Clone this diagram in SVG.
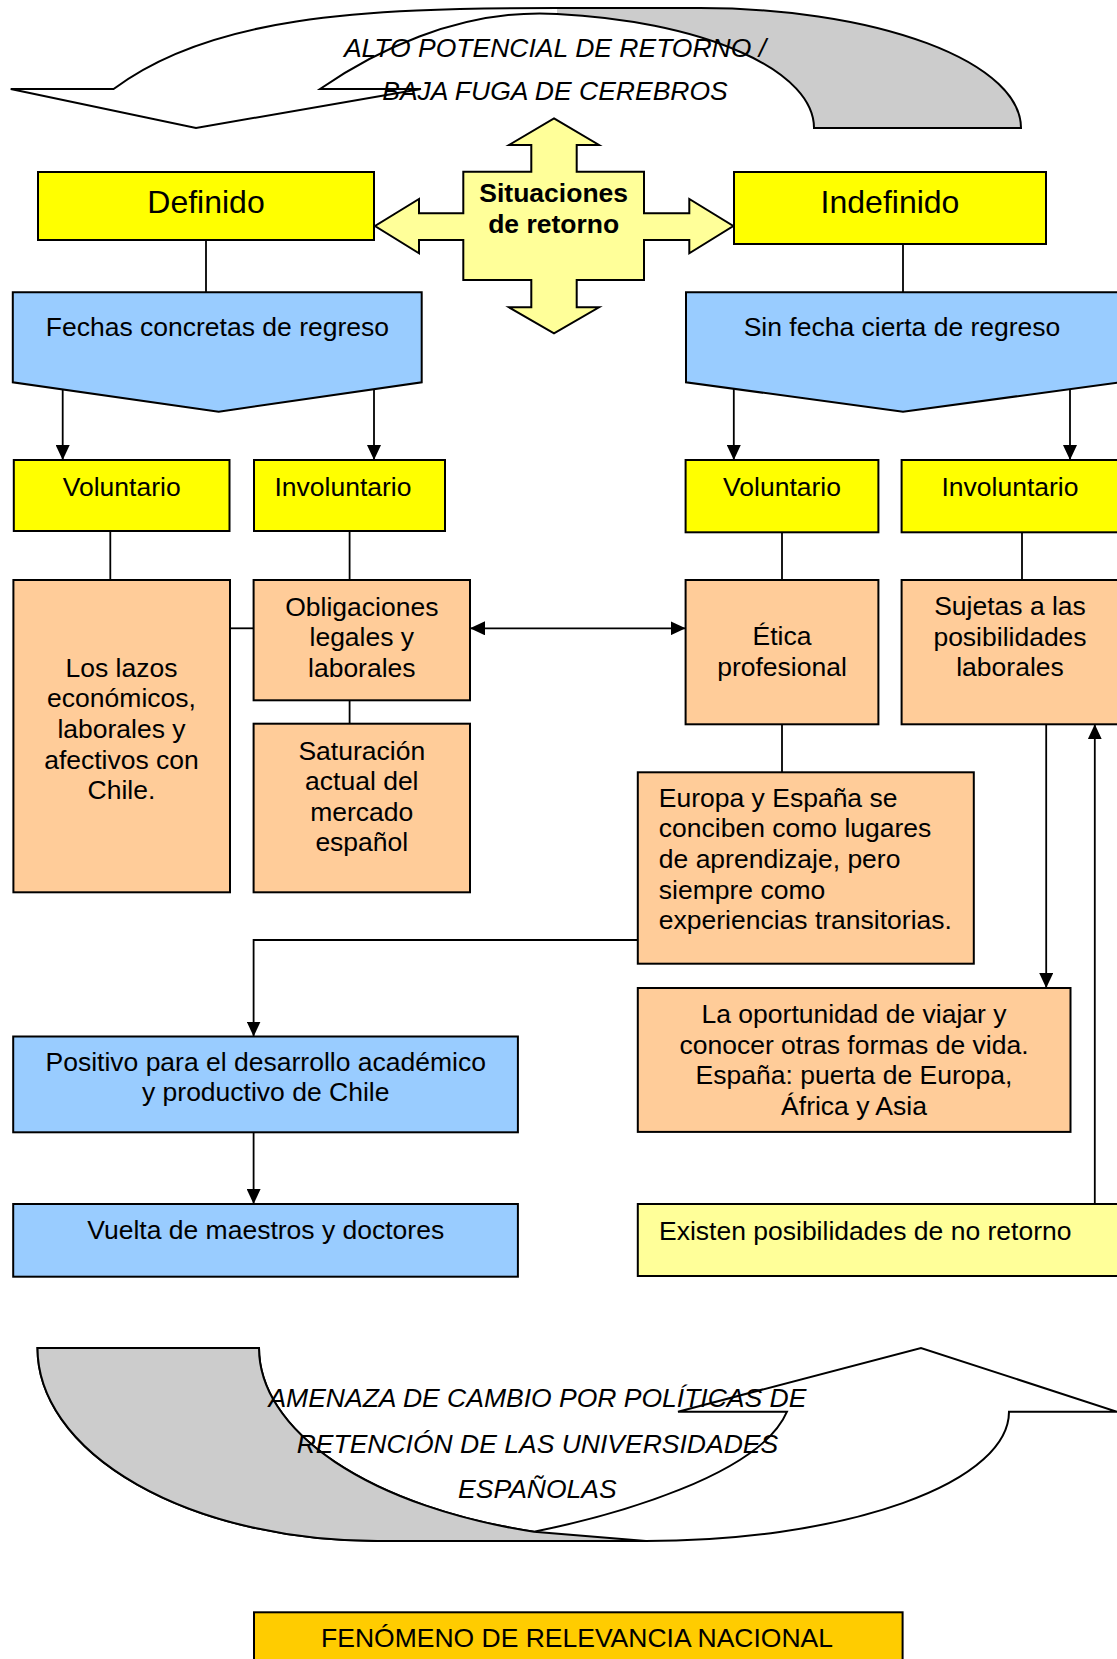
<svg xmlns="http://www.w3.org/2000/svg" width="1117" height="1659" viewBox="0 0 1117 1659">
<style>
text{font-family:"Liberation Sans",Arial,sans-serif;font-size:26.5px;fill:#000}
.c{text-anchor:middle}
.it{font-style:italic}
.b{font-weight:bold}
.big{font-size:32px}
.box{stroke:#000;stroke-width:2}
.yel{fill:#FFFF00}
.pyel{fill:#FFFF99}
.org{fill:#FFCC99}
.blu{fill:#99CCFF}
.gold{fill:#FFCC00}
.ln{stroke:#000;stroke-width:1.8;fill:none}
.ar{marker-end:url(#ah)}
</style>
<defs>
<marker id="ah" viewBox="0 0 15 14" refX="15" refY="7" markerWidth="15" markerHeight="14" markerUnits="userSpaceOnUse" orient="auto-start-reverse">
<path d="M0,0 L15,7 L0,14 Z" fill="#000"/>
</marker>
</defs>

<g id="top-arrow">
<path d="M320,89 L421,89 L196,128 L10.7,89 L113.6,89 C209.6,17 357,8 557,8 L700,8 A321,120 0 0 1 1021,128 L814,128 A294,115 0 0 0 557,13.9 C457,8 369,55 320,89 Z" fill="#fff" stroke="none"/>
<path d="M557,8 L700,8 A321,120 0 0 1 1021,128 L814,128 A294,115 0 0 0 557,13.9 Z" fill="#CCCCCC" stroke="none"/>
<path d="M320,89 L421,89 L196,128 L10.7,89 L113.6,89 C209.6,17 357,8 557,8 L700,8 A321,120 0 0 1 1021,128 L814,128 A294,115 0 0 0 557,13.9 C457,8 369,55 320,89 Z" fill="none" stroke="#000" stroke-width="2"/>
<text class="c it" x="555" y="57">ALTO POTENCIAL DE RETORNO /</text>
<text class="c it" x="555" y="100">BAJA FUGA DE CEREBROS</text>
</g>

<g id="bottom-arrow">
<path d="M37.5,1348 L259,1348 A391,192.4 0 0 0 534,1531.7 C614,1515.7 760,1475 787,1411.7 L678,1411.7 L921,1348 L1117,1411.7 L1009,1411.7 A363,129.3 0 0 1 646,1541 L378,1541 A340,193 0 0 1 37.5,1348 Z" fill="#fff" stroke="#000" stroke-width="2"/>
<path d="M37.5,1348 L259,1348 A391,192.4 0 0 0 534,1531.7 L646,1541 L378,1541 A340,193 0 0 1 37.5,1348 Z" fill="#CCCCCC" stroke="#000" stroke-width="2"/>
<text class="c it" x="537.4" y="1407">AMENAZA DE CAMBIO POR POLÍTICAS DE</text>
<text class="c it" x="537.4" y="1452.5">RETENCIÓN DE LAS UNIVERSIDADES</text>
<text class="c it" x="537.4" y="1498">ESPAÑOLAS</text>
</g>

<g id="connectors">
<line class="ln" x1="206" y1="240" x2="206" y2="292.3"/>
<line class="ln" x1="903" y1="244" x2="903" y2="292.3"/>
<line class="ln ar" x1="62.7" y1="389.4" x2="62.7" y2="460"/>
<line class="ln ar" x1="374" y1="389.2" x2="374" y2="460"/>
<line class="ln ar" x1="733.8" y1="388.8" x2="733.8" y2="460"/>
<line class="ln ar" x1="1070" y1="389.1" x2="1070" y2="460"/>
<line class="ln" x1="110.3" y1="531" x2="110.3" y2="580"/>
<line class="ln" x1="349.6" y1="531" x2="349.6" y2="580"/>
<line class="ln" x1="230" y1="628.3" x2="253.6" y2="628.3"/>
<line class="ln" x1="349.6" y1="700.3" x2="349.6" y2="723.7"/>
<line class="ln ar" x1="470" y1="628.3" x2="685.6" y2="628.3" marker-start="url(#ah)"/>
<line class="ln" x1="782" y1="532.3" x2="782" y2="580"/>
<line class="ln" x1="1022" y1="532.3" x2="1022" y2="580"/>
<line class="ln" x1="782" y1="724.3" x2="782" y2="772.3"/>
<path class="ln ar" d="M638,940 L253.6,940 L253.6,1036.5"/>
<line class="ln ar" x1="253.6" y1="1132.3" x2="253.6" y2="1204"/>
<line class="ln ar" x1="1046.2" y1="724.3" x2="1046.2" y2="988"/>
<line class="ln ar" x1="1094.8" y1="1204" x2="1094.8" y2="724.3"/>
</g>

<g id="situaciones">
<polygon class="box pyel" points="554,118.3 599,145 576.7,145 576.7,171.7 644,171.7 644,213.3 689.3,213.3 689.3,199 733.3,226 689.3,253.3 689.3,240 644,240 644,280 576.7,280 576.7,307.3 599,307.3 554,333.3 509,307.3 531.3,307.3 531.3,280 463.3,280 463.3,240 419,240 419,253.3 375,226 419,199 419,213.3 463.3,213.3 463.3,171.7 531.3,171.7 531.3,145 509,145"/>
<text class="c b" x="553.7" y="201.7">Situaciones</text>
<text class="c b" x="553.7" y="233.3">de retorno</text>
</g>

<g id="definido">
<rect class="box yel" x="38" y="172" width="336" height="68"/>
<text class="c big" x="206" y="212.6">Definido</text>
</g>
<g id="indefinido">
<rect class="box yel" x="734" y="172" width="312" height="72"/>
<text class="c big" x="890" y="212.6">Indefinido</text>
</g>

<g id="fechas">
<polygon class="box blu" points="12.8,292.3 421.7,292.3 421.7,382.3 218.7,411.7 12.8,382.3"/>
<text class="c" x="217.4" y="335.7">Fechas concretas de regreso</text>
</g>
<g id="sinfecha">
<polygon class="box blu" points="686,292.3 1120,292.3 1120,382.3 903,411.7 686,382.3"/>
<text class="c" x="902" y="335.7">Sin fecha cierta de regreso</text>
</g>

<g id="voluntario-l">
<rect class="box yel" x="13.8" y="460" width="215.7" height="71"/>
<text class="c" x="121.7" y="496">Voluntario</text>
</g>
<g id="involuntario-l">
<rect class="box yel" x="254" y="460" width="191" height="71"/>
<text class="c" x="343" y="496">Involuntario</text>
</g>
<g id="voluntario-r">
<rect class="box yel" x="685.6" y="460" width="192.8" height="72.3"/>
<text class="c" x="782" y="496">Voluntario</text>
</g>
<g id="involuntario-r">
<rect class="box yel" x="901.6" y="460" width="220" height="72.3"/>
<text class="c" x="1010" y="496">Involuntario</text>
</g>

<g id="lazos">
<rect class="box org" x="13.4" y="580" width="216.6" height="312.3"/>
<text class="c" x="121.5" y="676.7">Los lazos</text>
<text class="c" x="121.5" y="707.3">económicos,</text>
<text class="c" x="121.5" y="737.9">laborales y</text>
<text class="c" x="121.5" y="768.5">afectivos con</text>
<text class="c" x="121.5" y="799.1">Chile.</text>
</g>
<g id="obligaciones">
<rect class="box org" x="253.6" y="580" width="216.4" height="120.3"/>
<text class="c" x="361.8" y="615.5">Obligaciones</text>
<text class="c" x="361.8" y="646">legales y</text>
<text class="c" x="361.8" y="676.5">laborales</text>
</g>
<g id="saturacion">
<rect class="box org" x="253.6" y="723.7" width="216.4" height="168.6"/>
<text class="c" x="361.8" y="759.5">Saturación</text>
<text class="c" x="361.8" y="790">actual del</text>
<text class="c" x="361.8" y="820.5">mercado</text>
<text class="c" x="361.8" y="851">español</text>
</g>
<g id="etica">
<rect class="box org" x="685.6" y="580" width="192.8" height="144.3"/>
<text class="c" x="782" y="645">Ética</text>
<text class="c" x="782" y="675.6">profesional</text>
</g>
<g id="sujetas">
<rect class="box org" x="901.6" y="580" width="220" height="144.3"/>
<text class="c" x="1010" y="615">Sujetas a las</text>
<text class="c" x="1010" y="645.6">posibilidades</text>
<text class="c" x="1010" y="676.2">laborales</text>
</g>
<g id="europa">
<rect class="box org" x="637.8" y="772.3" width="336" height="191.4"/>
<text x="658.8" y="806.7">Europa y España se</text>
<text x="658.8" y="837.3">conciben como lugares</text>
<text x="658.8" y="867.9">de aprendizaje, pero</text>
<text x="658.8" y="898.5">siempre como</text>
<text x="658.8" y="929.1">experiencias transitorias.</text>
</g>
<g id="oportunidad">
<rect class="box org" x="637.8" y="988" width="432.7" height="143.9"/>
<text class="c" x="854" y="1023">La oportunidad de viajar y</text>
<text class="c" x="854" y="1053.6">conocer otras formas de vida.</text>
<text class="c" x="854" y="1084.2">España: puerta de Europa,</text>
<text class="c" x="854" y="1114.8">África y Asia</text>
</g>
<g id="positivo">
<rect class="box blu" x="13.2" y="1036.5" width="504.7" height="95.8"/>
<text class="c" x="265.7" y="1070.5">Positivo para el desarrollo académico</text>
<text class="c" x="265.7" y="1101">y productivo de Chile</text>
</g>
<g id="vuelta">
<rect class="box blu" x="13.2" y="1204" width="504.7" height="72.7"/>
<text class="c" x="265.7" y="1239">Vuelta de maestros y doctores</text>
</g>
<g id="existen">
<rect class="box pyel" x="637.8" y="1204" width="484" height="72"/>
<text x="659" y="1239.7">Existen posibilidades de no retorno</text>
</g>
<g id="fenomeno">
<rect class="box gold" x="254" y="1612.3" width="648.6" height="52"/>
<text class="c" x="577" y="1646.7">FENÓMENO DE RELEVANCIA NACIONAL</text>
</g>
</svg>
